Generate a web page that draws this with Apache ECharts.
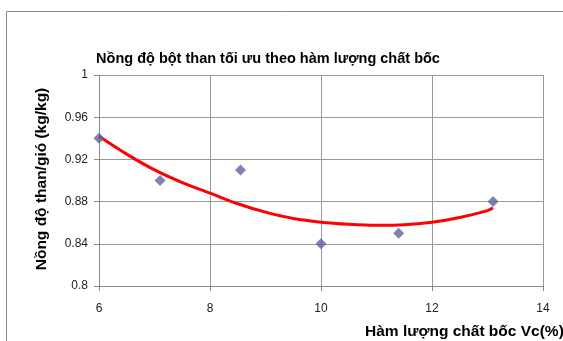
<!DOCTYPE html>
<html>
<head>
<meta charset="utf-8">
<script src="https://cdn.jsdelivr.net/npm/echarts@6/dist/echarts.min.js"></script>
<style>html,body{margin:0;padding:0;background:#fff;}#c{width:563px;height:341px;}</style>
</head>
<body>
<div id="c"></div>
<script>
var titleText = 'Nồng độ bột than tối ưu theo hàm lượng chất bốc';
var xName = 'Hàm lượng chất bốc Vc(%)';
var yName = 'Nồng độ than/gió (kg/kg)';
var pointsX = [6, 7.1, 8.55, 10, 11.4, 13.1];
var pointsY = [0.94, 0.90, 0.91, 0.84, 0.85, 0.88];
var trendX = [6, 6.5, 7, 7.5, 8, 8.5, 9, 9.5, 10, 10.5, 11, 11.5, 12, 12.5, 13, 13.1];
var trendY = [0.942, 0.925, 0.910, 0.898, 0.888, 0.878, 0.870, 0.864, 0.8605, 0.8585, 0.8575, 0.858, 0.8605, 0.865, 0.8715, 0.874];
var xTicks = [6, 8, 10, 12, 14];
var yTicks = [0.8, 0.84, 0.88, 0.92, 0.96, 1];

var font = '"Liberation Sans", Arial, sans-serif';
var chart = echarts.init(document.getElementById('c'));
chart.setOption({
  animation: false,
  backgroundColor: '#fff',
  grid: {left: 99, right: 20, top: 75, bottom: 55},
  title: {
    text: titleText, left: 263, top: 46, textAlign: 'center',
    textStyle: {fontFamily: font, fontSize: 14.5, fontWeight: 'bold', color: '#000'}
  },
  xAxis: {
    type: 'value', min: 6, max: 14, interval: 2,
    axisLine: {show: true, lineStyle: {color: '#888'}},
    axisTick: {show: true, length: 5, inside: false, lineStyle: {color: '#888'}},
    splitLine: {show: true, lineStyle: {color: '#999'}},
    axisLabel: {margin: 17, fontFamily: font, fontSize: 12, color: '#222',
      formatter: function (v) { return xTicks.indexOf(v) >= 0 ? String(v) : ''; }}
  },
  yAxis: {
    type: 'value', min: 0.8, max: 1, interval: 0.04,
    axisLine: {show: true, lineStyle: {color: '#888'}},
    axisTick: {show: true, length: 5, lineStyle: {color: '#888'}},
    splitLine: {show: true, lineStyle: {color: '#999'}},
    axisLabel: {margin: 11, fontFamily: font, fontSize: 12, color: '#222',
      formatter: function (v) {
        for (var i = 0; i < yTicks.length; i++) if (Math.abs(yTicks[i] - v) < 1e-9) return String(yTicks[i]);
        return '';
      }}
  },
  graphic: [
    {type: 'rect', shape: {x: 6.5, y: 11.5, width: 600, height: 400}, style: {fill: 'none', stroke: '#888', lineWidth: 1}, z: -1},
    {type: 'text', left: 365, top: 324, style: {text: xName, font: 'bold 15.5px ' + font, fill: '#000'}},
    {type: 'text', x: 42, y: 179, rotation: Math.PI / 2, style: {text: yName, font: 'bold 15.5px ' + font, fill: '#000', textAlign: 'center', textVerticalAlign: 'middle'}}
  ],
  series: [
    {
      type: 'line', smooth: 0.3, showSymbol: false, symbol: 'none',
      data: trendX.map(function (x, i) { return [x, trendY[i]]; }),
      lineStyle: {color: '#ff0000', width: 3}, z: 2
    },
    {
      type: 'scatter', symbol: 'diamond', symbolSize: 11,
      data: pointsX.map(function (x, i) { return [x, pointsY[i]]; }),
      itemStyle: {color: '#5f63a0'}, z: 3
    }
  ]
});
</script>
</body>
</html>
